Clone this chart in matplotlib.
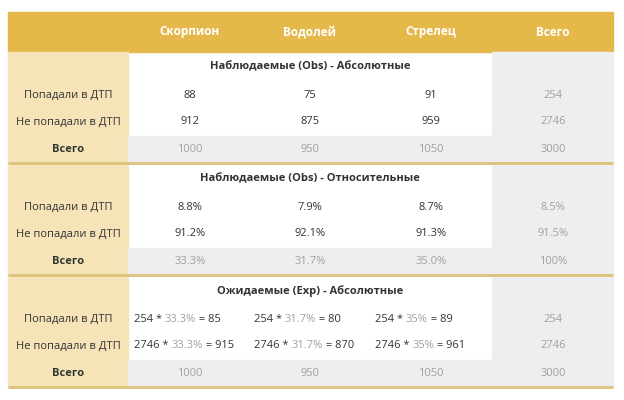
import matplotlib

matplotlib.use("Agg")
import matplotlib.pyplot as plt
from matplotlib.patches import Rectangle

plt.rcParams["font.family"] = ["Open Sans", "DejaVu Sans"]

COLUMNS = ["Скорпион", "Водолей", "Стрелец", "Всего"]
ROW_LABELS = ["Попадали в ДТП", "Не попадали в ДТП", "Всего"]
SECTION_TITLES = [
    "Наблюдаемые (Obs) - Абсолютные",
    "Наблюдаемые (Obs) - Относительные",
    "Ожидаемые (Exp) - Абсолютные",
]
OBS_ABS = [["88", "75", "91", "254"],
           ["912", "875", "959", "2746"],
           ["1000", "950", "1050", "3000"]]
OBS_REL = [["8.8%", "7.9%", "8.7%", "8.5%"],
           ["91.2%", "92.1%", "91.3%", "91.5%"],
           ["33.3%", "31.7%", "35.0%", "100%"]]
EXP_TOTALS = [254, 2746]
EXP_SHARES = ["33.3%", "31.7%", "35%"]
EXP_RESULTS = [[85, 80, 89], [915, 870, 961]]
EXP_TOTAL_ROW = ["1000", "950", "1050", "3000"]

GOLD = "#e5b84a"
LEFT_BG = "#f6e4b8"
GRAY_BG = "#eeeef1"
GRAY_TXT = "#a0a0a0"
DARK = "#333333"
LINE = "#dcc27a"

fig = plt.figure(figsize=(6.24, 4.0), dpi=100)
ax = fig.add_axes([0, 0, 1, 1])
ax.set_xlim(0, 624)
ax.set_ylim(400, 0)
ax.axis("off")

X0, X1, XL, XR = 8, 613, 128, 492
col_x = [190, 310, 431, 553]
label_x = 68

# header
ax.add_patch(Rectangle((X0, 12), X1 - X0, 40, color=GOLD))
for x, c in zip(col_x, COLUMNS):
    ax.text(x, 32, c, ha="center", va="center", color="white", fontsize=8.5, fontweight="bold")

sec_tops = [52, 164, 276]
for s, top in enumerate(sec_tops):
    bottom = top + 111
    ax.add_patch(Rectangle((X0, top), XL - X0, bottom - top, color=LEFT_BG))
    ax.add_patch(Rectangle((XR, top), X1 - XR, bottom - top, color=GRAY_BG))
    ax.add_patch(Rectangle((XL, top + 84), XR - XL, 27, color=GRAY_BG))
    ax.plot([X0, X1], [bottom, bottom], color=LINE, lw=2, solid_capstyle="butt")
    ax.text(310, top + 15, SECTION_TITLES[s], ha="center", va="center",
            color=DARK, fontsize=8, fontweight="bold")
    ys = [top + 43, top + 70, top + 98]
    for r, lab in enumerate(ROW_LABELS):
        ax.text(label_x, ys[r], lab, ha="center", va="center", color=DARK, fontsize=8,
                fontweight="bold" if r == 2 else "normal")
    if s < 2:
        data = OBS_ABS if s == 0 else OBS_REL
        for r in range(3):
            for c in range(4):
                color = GRAY_TXT if (r == 2 or c == 3) else DARK
                ax.text(col_x[c], ys[r], data[r][c], ha="center", va="center",
                        color=color, fontsize=8)
    else:
        for r in range(2):
            for c in range(3):
                t = ax.text(col_x[c] - 56, ys[r], f"{EXP_TOTALS[r]} * ", ha="left",
                            va="center", color=DARK, fontsize=8)
                t2 = ax.annotate(EXP_SHARES[c], xycoords=t, xy=(1, 0), va="bottom",
                                 color=GRAY_TXT, fontsize=8)
                ax.annotate(f" = {EXP_RESULTS[r][c]}", xycoords=t2, xy=(1, 0),
                            va="bottom", color=DARK, fontsize=8)
            ax.text(col_x[3], ys[r], str(EXP_TOTALS[r]), ha="center", va="center",
                    color=GRAY_TXT, fontsize=8)
        for c in range(4):
            ax.text(col_x[c], ys[2], EXP_TOTAL_ROW[c], ha="center", va="center",
                    color=GRAY_TXT, fontsize=8)

fig.savefig("out.png", dpi=100)
